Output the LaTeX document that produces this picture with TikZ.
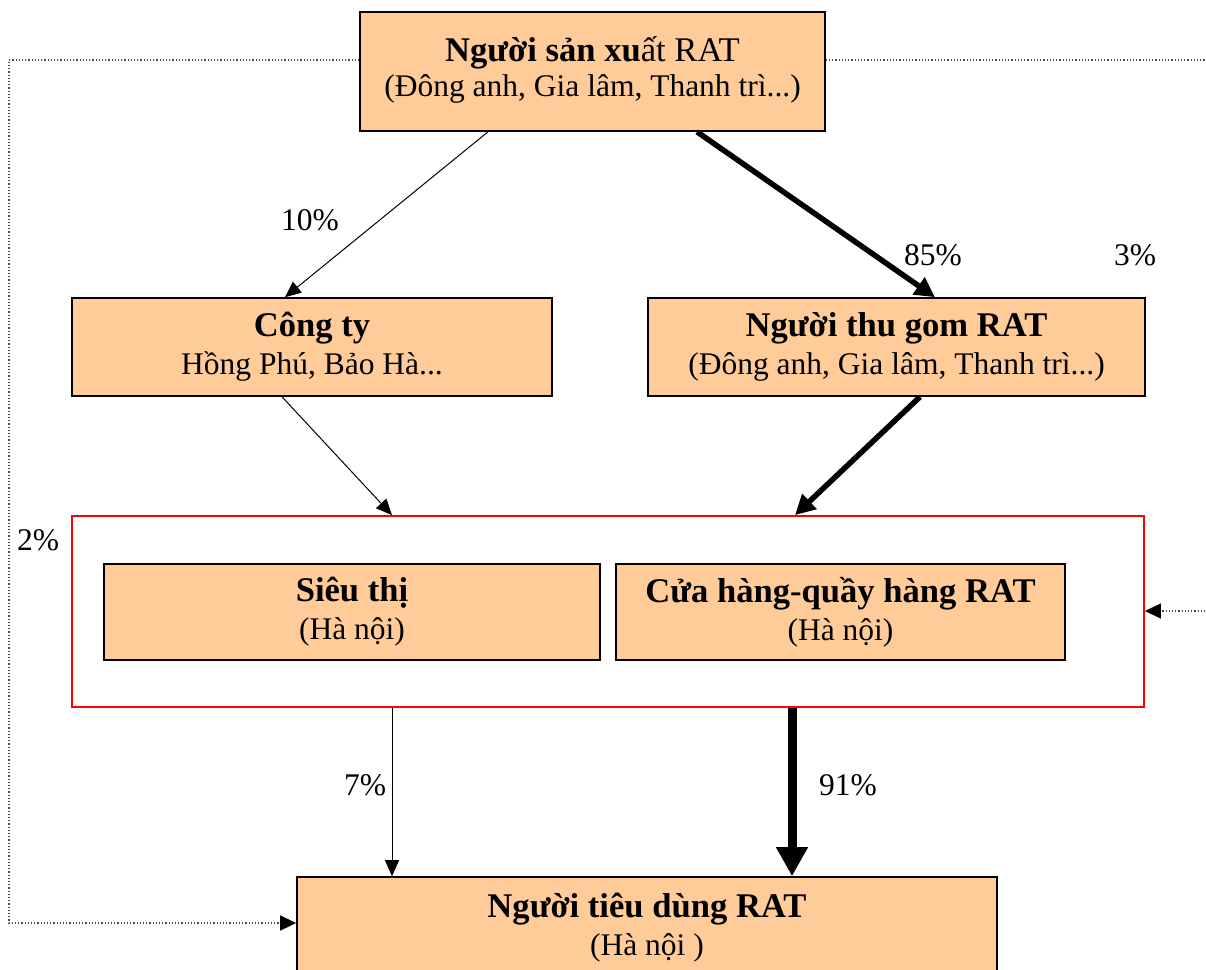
\documentclass[tikz,border=0pt]{standalone}
\usepackage{fontspec}
\setmainfont{Liberation Serif}
\usetikzlibrary{arrows.meta,calc}
\definecolor{peach}{HTML}{FFCC99}
\newcommand\bigline[1]{{\fontsize{34.6}{38}\selectfont #1}}
\begin{document}
\begin{tikzpicture}[x=1pt,y=-1pt,
  box/.style={draw=black,line width=1.6pt,fill=peach,rectangle,inner sep=0pt,align=center,
    font=\fontsize{31.5}{38}\selectfont},
  redbox/.style={draw=red,line width=1.8pt,rectangle,inner sep=0pt},
  pct/.style={font=\fontsize{31.5}{36}\selectfont,inner sep=0pt},
  thinarr/.style={line width=1pt,-{Triangle[length=16pt,width=14pt]}},
  thickarr/.style={line width=5.5pt,-{Triangle[length=20pt,width=20pt]}},
  hugearr/.style={line width=9pt,-{Triangle[length=29pt,width=30pt]}},
  dotarr/.style={line width=1.2pt,dotted,black!70,-{Triangle[length=16pt,width=15pt,black]}}
]
\useasboundingbox (0,0) rectangle (1206,969);

\node[box,minimum width=465pt,minimum height=119pt] (top) at (592.5,71.5)
  {\raisebox{13pt}{\begin{tabular}{@{}c@{}}\bigline{\textbf{Người sản xu}ất RAT}\\[-3pt](Đông anh, Gia lâm, Thanh trì...)\end{tabular}}};

\node[box,minimum width=480pt,minimum height=98pt] (congty) at (312,347)
  {\bigline{\textbf{Công ty}}\\Hồng Phú, Bảo Hà...};
\node[box,minimum width=497pt,minimum height=98pt] (thugom) at (896.5,347)
  {\bigline{\textbf{Người thu gom RAT}}\\(Đông anh, Gia lâm, Thanh trì...)};

\node[redbox,minimum width=1072pt,minimum height=191pt] (red) at (608,611.5) {};
\node[box,minimum width=496pt,minimum height=96pt] (sieuthi) at (352,612)
  {\bigline{\textbf{Siêu thị}}\\(Hà nội)};
\node[box,minimum width=449pt,minimum height=96pt] (cuahang) at (840.5,612)
  {\bigline{\textbf{Cửa hàng-quầy hàng RAT}}\\(Hà nội)};

\node[box,minimum width=700pt,minimum height=102pt] (tieudung) at (647,928)
  {\bigline{\textbf{Người tiêu dùng RAT}}\\(Hà nội )};

% labels
\node[pct] (l10) at (310,220) {10\%};
\node[pct] (l85) at (933,255) {85\%};
\node[pct] (l3) at (1135,255) {3\%};
\node[pct] (l2) at (38,540) {2\%};
\node[pct] (l7) at (365,785) {7\%};
\node[pct] (l91) at (848,785) {91\%};

% arrows
\draw[thinarr] (top.south -| 488,0) -- (congty.north -| 285,0);
\draw[thickarr] (top.south -| 697,0) -- (thugom.north -| 935,0);
\draw[thinarr] (congty.south -| 282,0) -- (red.north -| 392,0);
\draw[thickarr] (thugom.south -| 920,0) -- (red.north -| 795,0);
\draw[thinarr] (red.south -| 392,0) -- (tieudung.north -| 392,0);
\draw[hugearr] (red.south -| 792,0) -- (tieudung.north -| 792,0);

% dotted connectors
\coordinate (lc1) at (9,60);
\coordinate (lc2) at (9,923);
\draw[dotarr] (top.west |- 0,60) -- (lc1) -- (lc2) -- (tieudung.west |- 0,923);
\coordinate (rc1) at (1212,60);
\coordinate (rc2) at (1212,611);
\draw[dotarr] (top.east |- 0,60) -- (rc1) -- (rc2) -- (red.east |- 0,611);
\end{tikzpicture}
\end{document}
